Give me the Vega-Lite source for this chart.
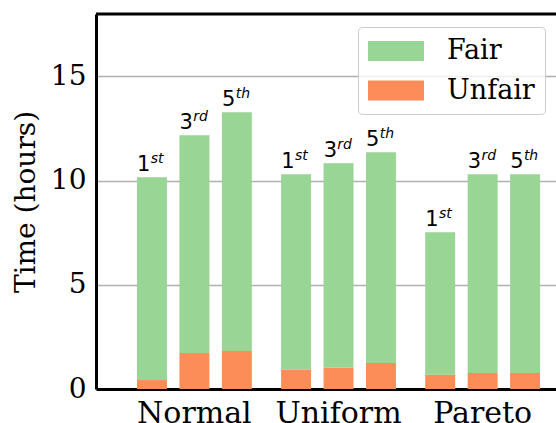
{
  "$schema": "https://vega.github.io/schema/vega-lite/v6.json",
  "width": 460,
  "height": 375,
  "autosize": {"type": "none"},
  "padding": {"left": 96, "top": 14, "right": 0, "bottom": 34},
  "config": {
    "view": {"stroke": null},
    "axis": {
      "domainColor": "black",
      "domainWidth": 3,
      "ticks": false,
      "labelFont": "DejaVu Serif",
      "labelColor": "black",
      "titleFont": "DejaVu Serif",
      "titleColor": "black",
      "titleFontWeight": "normal"
    }
  },
  "data": {
    "values": [
      {"dist": "Normal", "rank": "1st", "num": "1", "sup": "st", "type": "Unfair", "value": 0.43},
      {"dist": "Normal", "rank": "1st", "num": "1", "sup": "st", "type": "Fair", "value": 9.74},
      {"dist": "Normal", "rank": "3rd", "num": "3", "sup": "rd", "type": "Unfair", "value": 1.73},
      {"dist": "Normal", "rank": "3rd", "num": "3", "sup": "rd", "type": "Fair", "value": 10.45},
      {"dist": "Normal", "rank": "5th", "num": "5", "sup": "th", "type": "Unfair", "value": 1.82},
      {"dist": "Normal", "rank": "5th", "num": "5", "sup": "th", "type": "Fair", "value": 11.47},
      {"dist": "Uniform", "rank": "1st", "num": "1", "sup": "st", "type": "Unfair", "value": 0.93},
      {"dist": "Uniform", "rank": "1st", "num": "1", "sup": "st", "type": "Fair", "value": 9.38},
      {"dist": "Uniform", "rank": "3rd", "num": "3", "sup": "rd", "type": "Unfair", "value": 1.02},
      {"dist": "Uniform", "rank": "3rd", "num": "3", "sup": "rd", "type": "Fair", "value": 9.82},
      {"dist": "Uniform", "rank": "5th", "num": "5", "sup": "th", "type": "Unfair", "value": 1.25},
      {"dist": "Uniform", "rank": "5th", "num": "5", "sup": "th", "type": "Fair", "value": 10.12},
      {"dist": "Pareto", "rank": "1st", "num": "1", "sup": "st", "type": "Unfair", "value": 0.69},
      {"dist": "Pareto", "rank": "1st", "num": "1", "sup": "st", "type": "Fair", "value": 6.84},
      {"dist": "Pareto", "rank": "3rd", "num": "3", "sup": "rd", "type": "Unfair", "value": 0.77},
      {"dist": "Pareto", "rank": "3rd", "num": "3", "sup": "rd", "type": "Fair", "value": 9.54},
      {"dist": "Pareto", "rank": "5th", "num": "5", "sup": "th", "type": "Unfair", "value": 0.77},
      {"dist": "Pareto", "rank": "5th", "num": "5", "sup": "th", "type": "Fair", "value": 9.54}
    ]
  },
  "encoding": {
    "x": {
      "field": "dist",
      "type": "nominal",
      "sort": ["Normal", "Uniform", "Pareto"],
      "title": null,
      "scale": {"paddingInner": 0.203, "paddingOuter": 0.1975, "align": 0.72},
      "axis": {"labelAngle": 0, "labelFontSize": 30, "labelPadding": 9, "grid": false}
    },
    "xOffset": {
      "field": "rank",
      "type": "nominal",
      "sort": ["1st", "3rd", "5th"],
      "scale": {"paddingInner": 0.294, "paddingOuter": 0}
    }
  },
  "layer": [
    {
      "mark": {"type": "bar"},
      "encoding": {
        "y": {
          "field": "value",
          "type": "quantitative",
          "stack": "zero",
          "scale": {"domain": [0, 18], "nice": false},
          "axis": {
            "values": [0, 5, 10, 15],
            "title": "Time (hours)",
            "titleFontSize": 28,
            "titlePadding": 10,
            "labelFontSize": 28,
            "labelPadding": 10,
            "grid": true,
            "gridColor": "#b0b0b0",
            "gridWidth": 1.5
          }
        },
        "color": {
          "field": "type",
          "type": "nominal",
          "scale": {"domain": ["Fair", "Unfair"], "range": ["#99d594", "#fc8d59"]},
          "legend": {
            "title": null,
            "orient": "none",
            "legendX": 262,
            "legendY": 13,
            "symbolType": "M-1,-0.714H3V0.714H-1Z",
            "symbolSize": 784,
            "symbolStrokeWidth": 0,
            "symbolOpacity": 1,
            "labelFont": "DejaVu Serif",
            "labelFontSize": 27,
            "labelColor": "black",
            "labelOffset": 51,
            "rowPadding": 12.5,
            "padding": 10,
            "fillColor": "rgba(255,255,255,0.8)",
            "strokeColor": "#cccccc",
            "cornerRadius": 4
          }
        },
        "order": {"field": "type", "sort": "descending"}
      }
    },
    {
      "transform": [
        {"aggregate": [{"op": "sum", "field": "value", "as": "total"}], "groupby": ["dist", "rank", "num", "sup"]}
      ],
      "mark": {"type": "text", "font": "DejaVu Sans", "fontSize": 21, "color": "black", "align": "right", "baseline": "alphabetic", "dx": -1.5, "dy": -6},
      "encoding": {
        "y": {"field": "total", "type": "quantitative"},
        "text": {"field": "num"}
      }
    },
    {
      "transform": [
        {"aggregate": [{"op": "sum", "field": "value", "as": "total"}], "groupby": ["dist", "rank", "num", "sup"]}
      ],
      "mark": {"type": "text", "font": "DejaVu Sans", "fontSize": 14, "fontStyle": "italic", "color": "black", "align": "left", "baseline": "alphabetic", "dx": -1.2, "dy": -14},
      "encoding": {
        "y": {"field": "total", "type": "quantitative"},
        "text": {"field": "sup"}
      }
    },
    {
      "data": {"values": [{}]},
      "mark": {"type": "rule", "color": "black", "strokeWidth": 3},
      "encoding": {"x": null, "xOffset": null, "y": {"datum": 18}}
    }
  ]
}
